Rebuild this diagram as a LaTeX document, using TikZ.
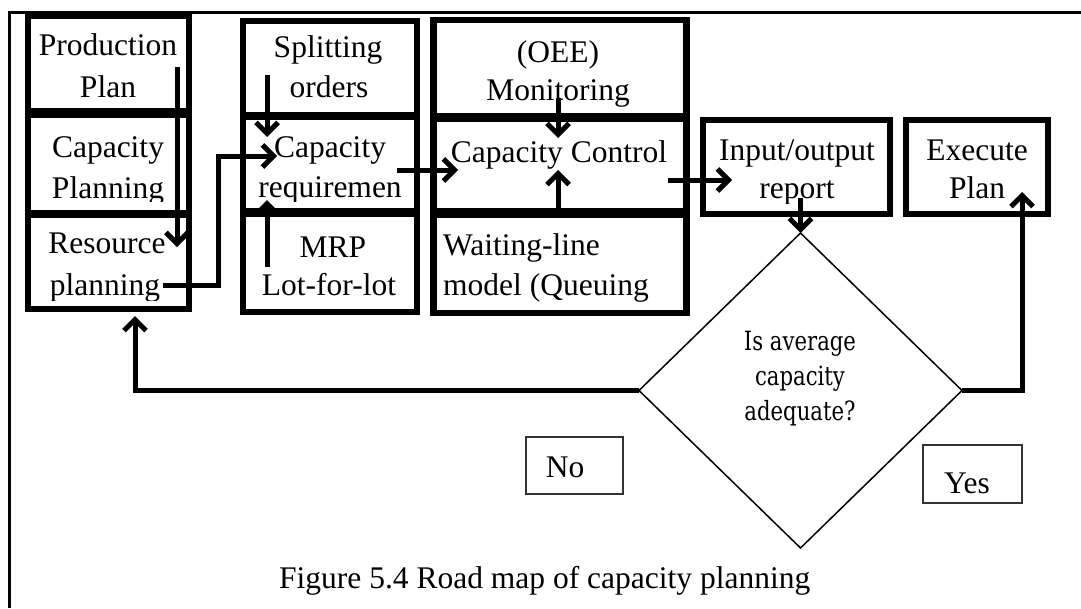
\documentclass[tikz,border=0pt]{standalone}
\usepackage{fontspec}
\setmainfont{Liberation Serif}
\newfontfamily\qfont[FakeStretch=0.8]{DejaVu Serif}
\usetikzlibrary{arrows.meta,shapes.geometric}
\begin{document}
\begin{tikzpicture}[x=1pt,y=-1pt,
  stage/.style={draw, line width=6.5pt, inner sep=0pt, outer sep=0pt},
  txt/.style={inner sep=0pt, anchor=base, font=\fontsize{31.5}{42}\selectfont},
  ltxt/.style={txt, anchor=base west},
  qtxt/.style={inner sep=0pt, anchor=base, font=\qfont\fontsize{26.5}{35}\selectfont},
  conn/.style={line width=5pt, line join=miter, -{Straight Barb[length=11pt,width=22pt]}},
  answer/.style={draw=black!80, line width=1.3pt, inner sep=0pt, outer sep=0pt},
  decision/.style={draw, diamond, line width=1.5pt, inner sep=0pt, outer sep=0pt}]
\useasboundingbox (0,0) rectangle (1081,608);

% page frame
\draw[line width=3pt] (9.5,608) -- (9.5,12.5) -- (1081,12.5);

% first column
\node[stage, minimum width=161pt, minimum height=95pt] (pp) at (108.5,63.5) {};
\node[stage, minimum width=161pt, minimum height=98pt] (cp) at (108.5,164) {};
\node[stage, minimum width=161pt, minimum height=94pt] (rp) at (108.5,262) {};
\node[txt] (ppa) at (108,55) {Production};
\node[txt] (ppb) at (108,97) {Plan};
\begin{scope}
  \clip (31,118) rectangle (186,201);
  \node[txt] (cpa) at (108,157) {Capacity};
  \node[txt] (cpb) at (108,198) {Planning};
\end{scope}
\begin{scope}
  \clip (31,218) rectangle (186,300);
  \node[txt] (rpa) at (107,253) {Resource};
  \node[txt] (rpb) at (105,295) {planning};
\end{scope}

% second column
\node[stage, minimum width=174pt, minimum height=94pt] (so) at (330,68) {};
\node[stage, minimum width=174pt, minimum height=94pt] (cr) at (330,164) {};
\node[stage, minimum width=174pt, minimum height=98pt] (mrp) at (330,263) {};
\node[txt] (soa) at (328,57) {Splitting};
\node[txt] (sob) at (329,97) {orders};
\begin{scope}
  \clip (246,120) rectangle (414,201);
  \node[txt] (cra) at (330,157) {Capacity};
  \node[txt] (crb) at (330,197) {requiremen};
\end{scope}
\node[txt] (mrpa) at (333,257) {MRP};
\node[txt] (mrpb) at (329,295) {Lot-for-lot};

% third column
\node[stage, minimum width=253pt, minimum height=96pt] (oee) at (560,68) {};
\node[stage, minimum width=253pt, minimum height=92pt] (cc) at (560,165) {};
\node[stage, minimum width=253pt, minimum height=98pt] (wl) at (560,264) {};
\node[txt] (oeea) at (558,62) {(OEE)};
\node[txt] (oeeb) at (558,100) {Monitoring};
\node[txt] (cca) at (559,162) {Capacity Control};
\node[ltxt] (wla) at (443,255) {Waiting-line};
\node[ltxt] (wlb) at (443,295) {model (Queuing};

% report and execution
\node[stage, line width=6pt, minimum width=187pt, minimum height=94pt] (io) at (796.5,167) {};
\node[stage, line width=6pt, minimum width=142pt, minimum height=94pt] (ex) at (977,167) {};
\begin{scope}
  \clip (706,123) rectangle (887,203);
  \node[txt] (ioa) at (797,160) {Input/output};
  \node[txt] (iob) at (797,198) {report};
\end{scope}
\node[txt] (exa) at (977,160) {Execute};
\node[txt] (exb) at (977,198) {Plan};

% decision
\node[decision, minimum width=323pt, minimum height=315pt] (dm) at (800.5,390.5) {};
\node[qtxt] (dma) at (800,350) {Is average};
\node[qtxt] (dmb) at (800,385) {capacity};
\node[qtxt] (dmc) at (800,420) {adequate?};

% answer labels
\node[answer, minimum width=97pt, minimum height=57pt] (no) at (574.5,465.5) {};
\node[txt] (noa) at (565,477) {No};
\node[answer, minimum width=99pt, minimum height=58pt] (yes) at (972.5,474) {};
\node[txt] (yesa) at (967,493) {Yes};

% caption
\node[ltxt] (cap) at (279,588) {Figure 5.4 Road map of capacity planning};

% connector end points inside the boxes
\coordinate (ppS) at (177,67);   \coordinate (rpE) at (177,247);
\coordinate (rpS) at (163,285);  \coordinate (crE) at (277,156);
\coordinate (soS) at (267,75);   \coordinate (crT) at (267,137);
\coordinate (mrpS) at (267,267); \coordinate (crB) at (267,200);
\coordinate (crS) at (397,170);  \coordinate (ccW) at (458,170);
\coordinate (oeeS) at (558,98);  \coordinate (ccT) at (558,138);
\coordinate (wlS) at (558,216);  \coordinate (ccB) at (558,170);
\coordinate (ccS) at (668,180);  \coordinate (ioW) at (732,180);
\coordinate (ioS) at (800.5,198);
\coordinate (exB) at (1022,192);
\coordinate (rpB) at (135,316);

% connectors
\draw[conn] (ppS) -- (rpE);
\draw[conn] (rpS) -- (218,285) -- (218,156) -- (crE);
\draw[conn] (soS) -- (crT);
\draw[conn] (mrpS) -- (crB);
\draw[conn] (crS) -- (ccW);
\draw[conn] (oeeS) -- (ccT);
\draw[conn] (wlS) -- (ccB);
\draw[conn] (ccS) -- (ioW);
\draw[conn] (ioS) -- (dm.north);
\draw[conn] (dm.west) -| (rpB);
\draw[conn] (dm.east) -| (exB);
\end{tikzpicture}
\end{document}
